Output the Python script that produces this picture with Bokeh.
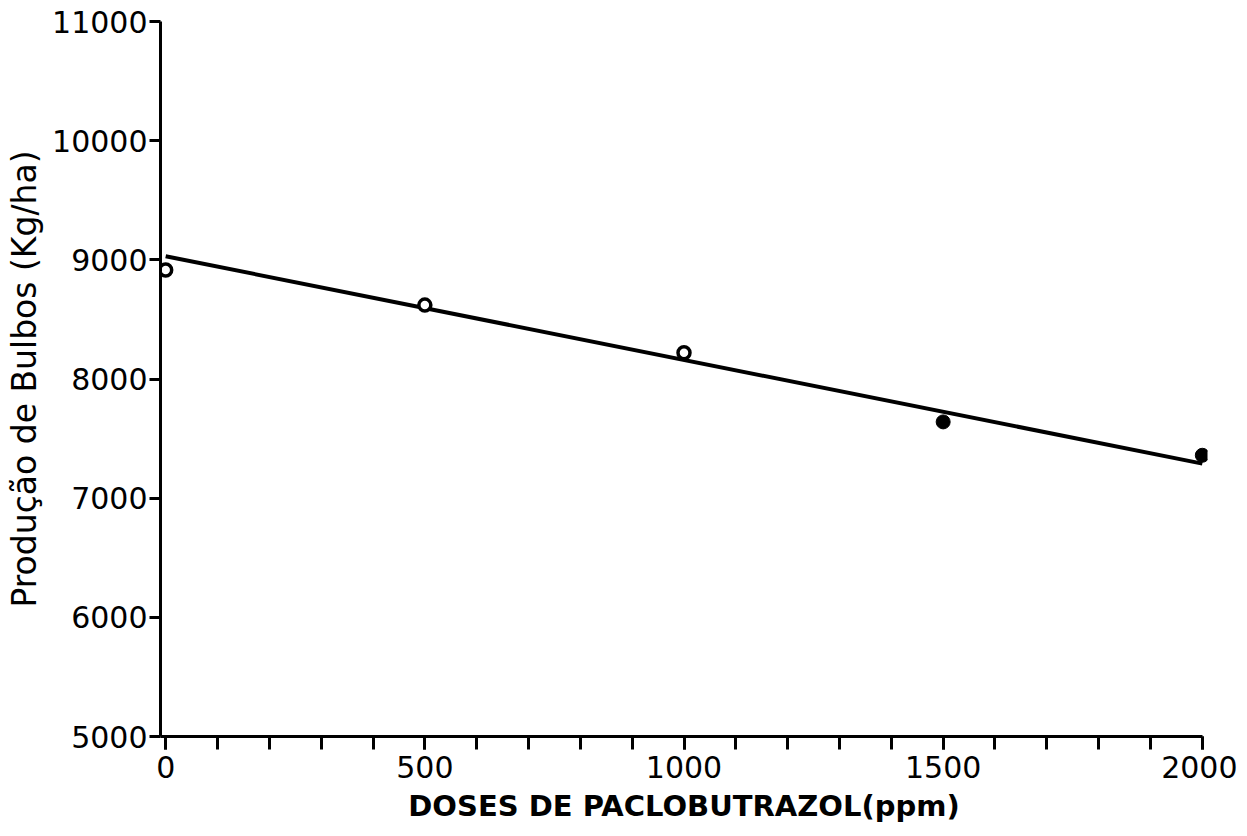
from bokeh.plotting import figure
from bokeh.models import Range1d, SingleIntervalTicker, FixedTicker
from bokeh.embed import file_html
from bokeh.resources import INLINE

# Data
doses = [0, 500, 1000, 1500, 2000]
producao = [8915, 8620, 8220, 7640, 7360]
filled = [False, False, False, True, True]

# Fitted regression line (intercept, slope)
reg_intercept = 9030
reg_slope = -0.87
reg_x = [0, 2000]
reg_y = [reg_intercept + reg_slope * x for x in reg_x]

y_ticks = [5000, 6000, 7000, 8000, 9000, 10000, 11000]
x_label = "DOSES DE PACLOBUTRAZOL(ppm)"
y_label = "Produção de Bulbos (Kg/ha)"

FONT = "DejaVu Sans"

p = figure(frame_width=1047, frame_height=715,
           x_range=Range1d(-10, 2010), y_range=Range1d(5000, 11000),
           output_backend="svg", toolbar_location=None,
           min_border_left=160, min_border_top=21,
           min_border_right=30, min_border_bottom=94)
p.outline_line_color = None
p.xgrid.visible = False
p.ygrid.visible = False
p.background_fill_color = "white"
p.border_fill_color = "white"

# y axis
ya = p.yaxis[0]
ya.ticker = FixedTicker(ticks=y_ticks)
ya.axis_line_width = 3
ya.major_tick_line_width = 3
ya.major_tick_out = 11
ya.major_tick_in = 0
ya.minor_tick_line_color = None
ya.major_label_text_font = FONT
ya.major_label_text_font_size = "30px"
ya.major_label_text_color = "black"
ya.major_label_standoff = 2
ya.axis_label = y_label
ya.axis_label_text_font = FONT
ya.axis_label_text_font_size = "33px"
ya.axis_label_text_font_style = "normal"
ya.axis_label_text_color = "black"
ya.axis_label_standoff = 5

# x axis
xa = p.xaxis[0]
xa.ticker = SingleIntervalTicker(interval=500, num_minor_ticks=5)
xa.bounds = (-10, 2000)
xa.axis_line_width = 3
xa.major_tick_line_width = 3
xa.minor_tick_line_width = 3
xa.major_tick_out = 13
xa.major_tick_in = 0
xa.minor_tick_out = 13
xa.minor_tick_in = 0
xa.minor_tick_line_color = "black"
xa.major_label_text_font = FONT
xa.major_label_text_font_size = "30px"
xa.major_label_text_color = "black"
xa.major_label_standoff = 6
xa.axis_label = x_label
xa.axis_label_text_font = FONT
xa.axis_label_text_font_size = "29px"
xa.axis_label_text_font_style = "bold"
xa.axis_label_text_color = "black"
xa.axis_label_standoff = 8

# regression line
p.line(reg_x, reg_y, line_color="black", line_width=4)

# points
ox = [d for d, f in zip(doses, filled) if not f]
oy = [v for v, f in zip(producao, filled) if not f]
fx = [d for d, f in zip(doses, filled) if f]
fy = [v for v, f in zip(producao, filled) if f]
p.scatter(ox, oy, size=12, marker="circle", fill_color="white",
          line_color="black", line_width=3.5)
p.scatter(fx, fy, size=14, marker="circle", fill_color="black",
          line_color="black", line_width=1)

open("out.html", "w").write(file_html(p, INLINE))
